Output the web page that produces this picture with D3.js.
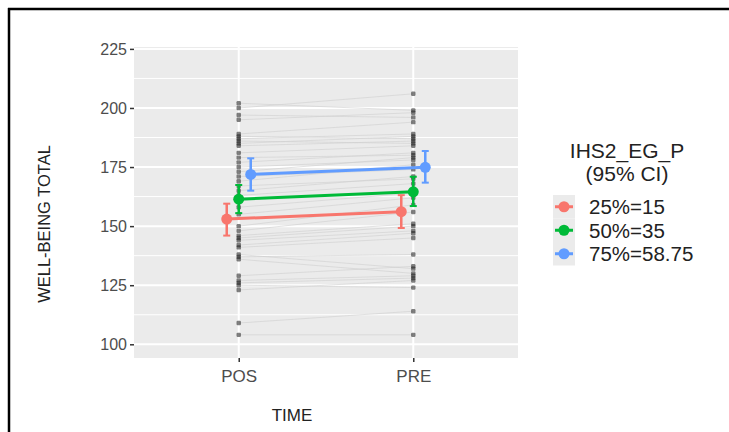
<!DOCTYPE html>
<html>
<head>
<meta charset="utf-8">
<script src="https://cdn.jsdelivr.net/npm/d3@7"></script>
<style>
  body { margin: 0; background: #fff; }
  text { font-family: "Liberation Sans", Arial, sans-serif; }
</style>
</head>
<body>
<svg id="chart" width="729" height="432"></svg>
<script>
// time points, paired scores per subject (same index = same person)
var times = ["POS", "PRE"];
var posScores = [202,200,197,195,189,188,187,186,185,184,181,179,177,175,173,171,169,167,165,163,
                 161,158,155,150,148,146,145,144,142,141,138,137,136,129,127,126,125,123,109,104];
var preScores = [199,206,196,198,194,187,189,185,188,186,184,180,181,178,179,174,176,170,171,168,
                 165,164,162,159,156,151,150,148,147,145,132,138,130,133,129,128,124,127,114,104];

// moderator levels with mean and 95% CI at each time
var groups = ["25%=15", "50%=35", "75%=58.75"];
var meanPos = [153.0, 161.4, 171.9];
var lowPos  = [146.0, 155.5, 165.0];
var highPos = [159.5, 167.4, 178.7];
var meanPre = [156.1, 164.5, 174.9];
var lowPre  = [149.2, 158.5, 168.4];
var highPre = [163.1, 170.9, 181.8];

var yTicks = [100, 125, 150, 175, 200, 225];

var svg = d3.select("#chart");
var panel = { left: 134, right: 518, top: 47, bottom: 358 };

var x = d3.scalePoint().domain(times).range([panel.left, panel.right]).padding(0.6);
var y = d3.scaleLinear().domain([94.2, 225.8]).range([panel.bottom, panel.top]);
var color = d3.scaleOrdinal().domain(groups).range(["#F8766D", "#00BA38", "#619CFF"]);
var dodge = d3.scalePoint().domain(groups).range([-12, 12]);

// outer frame (top + left only)
svg.append("line").attr("x1", 8).attr("x2", 729).attr("y1", 9).attr("y2", 9)
	.attr("stroke", "#000").attr("stroke-width", 2.5);
svg.append("line").attr("x1", 9).attr("x2", 9).attr("y1", 8).attr("y2", 432)
	.attr("stroke", "#000").attr("stroke-width", 2.5);

// panel + grid
svg.append("rect").attr("x", panel.left).attr("y", panel.top)
	.attr("width", panel.right - panel.left).attr("height", panel.bottom - panel.top)
	.attr("fill", "#EBEBEB");

var minor = d3.pairs(yTicks).map(function(p) { return (p[0] + p[1]) / 2 });
svg.append("g").selectAll("line").data(minor).enter().append("line")
	.attr("x1", panel.left).attr("x2", panel.right)
	.attr("y1", function(d) { return y(d) }).attr("y2", function(d) { return y(d) })
	.attr("stroke", "#fff").attr("stroke-width", 1);
svg.append("g").selectAll("line").data(yTicks).enter().append("line")
	.attr("x1", panel.left).attr("x2", panel.right)
	.attr("y1", function(d) { return y(d) }).attr("y2", function(d) { return y(d) })
	.attr("stroke", "#fff").attr("stroke-width", 2);
svg.append("g").selectAll("line").data(times).enter().append("line")
	.attr("x1", function(d) { return x(d) }).attr("x2", function(d) { return x(d) })
	.attr("y1", panel.top).attr("y2", panel.bottom)
	.attr("stroke", "#fff").attr("stroke-width", 2);

// subject trajectories
var subjects = posScores.map(function(v, i) { return { pos: v, pre: preScores[i] } });
svg.append("g").selectAll("line").data(subjects).enter().append("line")
	.attr("x1", x("POS")).attr("x2", x("PRE"))
	.attr("y1", function(d) { return y(d.pos) }).attr("y2", function(d) { return y(d.pre) })
	.attr("stroke", "#cfcfcf").attr("stroke-opacity", 0.75).attr("stroke-width", 0.8);

var raw = [];
subjects.forEach(function(d) {
	raw.push({ t: "POS", v: d.pos });
	raw.push({ t: "PRE", v: d.pre });
});
svg.append("g").selectAll("rect").data(raw).enter().append("rect")
	.attr("x", function(d) { return x(d.t) - 2.2 })
	.attr("y", function(d) { return y(d.v) - 2.2 })
	.attr("width", 4.4).attr("height", 4.4).attr("rx", 1.2)
	.attr("fill", "#1a1a1a").attr("fill-opacity", 0.55);

// model estimates
var est = groups.map(function(g, i) {
	return { g: g, vals: [
		{ t: "POS", m: meanPos[i], lo: lowPos[i], hi: highPos[i] },
		{ t: "PRE", m: meanPre[i], lo: lowPre[i], hi: highPre[i] } ] };
});

var eg = svg.append("g").selectAll("g").data(est).enter().append("g")
	.attr("stroke", function(d) { return color(d.g) })
	.attr("fill", function(d) { return color(d.g) });

eg.append("line")
	.attr("x1", function(d) { return x("POS") + dodge(d.g) })
	.attr("x2", function(d) { return x("PRE") + dodge(d.g) })
	.attr("y1", function(d) { return y(d.vals[0].m) })
	.attr("y2", function(d) { return y(d.vals[1].m) })
	.attr("stroke-width", 3);

eg.each(function(d) {
	var g = d3.select(this);
	var cx = function(v) { return x(v.t) + dodge(d.g) };
	g.selectAll("line.ci").data(d.vals).enter().append("line").attr("class", "ci")
		.attr("x1", cx).attr("x2", cx)
		.attr("y1", function(v) { return y(v.lo) }).attr("y2", function(v) { return y(v.hi) })
		.attr("stroke-width", 2.5);
	g.selectAll("line.caphi").data(d.vals).enter().append("line").attr("class", "caphi")
		.attr("x1", function(v) { return cx(v) - 3.5 }).attr("x2", function(v) { return cx(v) + 3.5 })
		.attr("y1", function(v) { return y(v.hi) }).attr("y2", function(v) { return y(v.hi) })
		.attr("stroke-width", 2);
	g.selectAll("line.caplo").data(d.vals).enter().append("line").attr("class", "caplo")
		.attr("x1", function(v) { return cx(v) - 3.5 }).attr("x2", function(v) { return cx(v) + 3.5 })
		.attr("y1", function(v) { return y(v.lo) }).attr("y2", function(v) { return y(v.lo) })
		.attr("stroke-width", 2);
	g.selectAll("circle").data(d.vals).enter().append("circle")
		.attr("cx", cx).attr("cy", function(v) { return y(v.m) })
		.attr("r", 5.5).attr("stroke", "none");
});

// axes
var yAxis = svg.append("g").attr("transform", "translate(" + panel.left + ",0)")
	.call(d3.axisLeft(y).tickValues(yTicks).tickSize(4).tickPadding(3));
var xAxis = svg.append("g").attr("transform", "translate(0," + panel.bottom + ")")
	.call(d3.axisBottom(x).tickSize(4).tickPadding(8));
[yAxis, xAxis].forEach(function(a) {
	a.select(".domain").remove();
	a.selectAll(".tick line").attr("stroke", "#333").attr("stroke-width", 1.5);
	a.selectAll(".tick text").attr("fill", "#4D4D4D").style("font-size", "16px");
});
xAxis.selectAll(".tick text").style("font-size", "17px");

svg.append("text").attr("x", 292).attr("y", 421).attr("text-anchor", "middle")
	.attr("fill", "#222").style("font-size", "17px").text("TIME");
svg.append("text").attr("transform", "translate(50,224) rotate(-90)").attr("text-anchor", "middle")
	.attr("fill", "#222").style("font-size", "16.5px").text("WELL-BEING TOTAL");

// legend
var lg = svg.append("g");
lg.append("text").attr("x", 627).attr("y", 158).attr("text-anchor", "middle")
	.attr("fill", "#222").style("font-size", "21px").text("IHS2_EG_P");
lg.append("text").attr("x", 627).attr("y", 181).attr("text-anchor", "middle")
	.attr("fill", "#222").style("font-size", "21px").text("(95% CI)");

var keys = lg.selectAll("g.key").data(groups).enter().append("g").attr("class", "key")
	.attr("transform", function(d, i) { return "translate(553," + (195 + i * 23.5) + ")" });
keys.append("rect").attr("width", 22).attr("height", 23.5).attr("fill", "#EBEBEB");
keys.append("line").attr("x1", 2).attr("x2", 20).attr("y1", 11.75).attr("y2", 11.75)
	.attr("stroke", function(d) { return color(d) }).attr("stroke-width", 3);
keys.append("circle").attr("cx", 11).attr("cy", 11.75).attr("r", 5.5)
	.attr("fill", function(d) { return color(d) });
keys.append("text").attr("x", 36).attr("y", 19)
	.attr("fill", "#222").style("font-size", "20.5px").text(function(d) { return d });
</script>
</body>
</html>
